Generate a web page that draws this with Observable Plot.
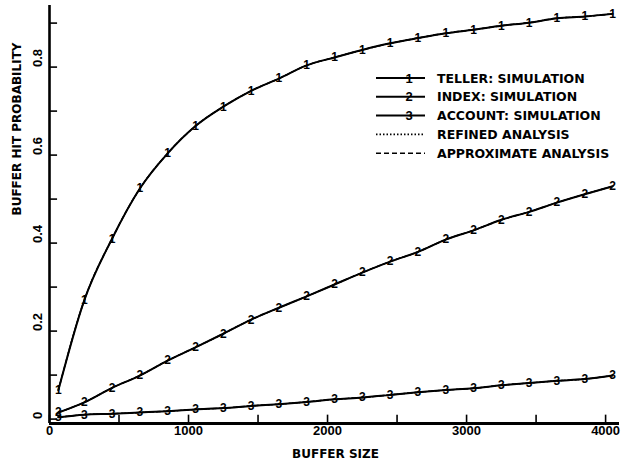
<!DOCTYPE html>
<html>
<head>
<meta charset="utf-8">
<script src="https://cdn.jsdelivr.net/npm/d3@7"></script>
<script src="https://cdn.jsdelivr.net/npm/@observablehq/plot@0.6"></script>
<style>
  html, body { margin: 0; padding: 0; background: #fff; }
  svg { display: block; }
</style>
</head>
<body>
<div id="chart"></div>
<script>
// ---- data ----
const bufferSize = [64, 250, 450, 650, 850, 1050, 1250, 1450, 1650, 1850, 2050,
  2250, 2450, 2650, 2850, 3050, 3250, 3450, 3650, 3850, 4050];
const teller = [0.066, 0.270, 0.410, 0.524, 0.604, 0.666, 0.710, 0.746, 0.774, 0.804, 0.822,
  0.839, 0.854, 0.866, 0.877, 0.885, 0.894, 0.901, 0.911, 0.915, 0.921];
const indexSeries = [0.015, 0.038, 0.071, 0.099, 0.133, 0.163, 0.194, 0.226, 0.253, 0.279, 0.306,
  0.333, 0.358, 0.380, 0.408, 0.429, 0.453, 0.471, 0.492, 0.511, 0.529];
const account = [0.004, 0.010, 0.012, 0.015, 0.018, 0.022, 0.025, 0.030, 0.034, 0.039, 0.045,
  0.049, 0.055, 0.061, 0.066, 0.070, 0.077, 0.082, 0.087, 0.091, 0.099];
// analysis curves coincide with the simulation curves in the picture
const refinedTeller = teller, refinedIndex = indexSeries, refinedAccount = account;
const approxTeller = teller, approxIndex = indexSeries, approxAccount = account;

const seriesNames = ["TELLER: SIMULATION", "INDEX: SIMULATION", "ACCOUNT: SIMULATION"];
const seriesMarkers = ["1", "2", "3"];
const analysisNames = ["REFINED ANALYSIS", "APPROXIMATE ANALYSIS"];

const xTicks = [0, 500, 1000, 1500, 2000, 2500, 3000, 3500, 4000];
const xTickLabels = ["0", "", "1000", "", "2000", "", "3000", "", "4000"];
const yTicks = [0, 0.1, 0.2, 0.3, 0.4, 0.5, 0.6, 0.7, 0.8, 0.9];
const yTickLabels = ["0", "", "0.2", "", "0.4", "", "0.6", "", "0.8", ""];
const xTitle = "BUFFER SIZE";
const yTitle = "BUFFER HIT PROBABILITY";

// ---- build tidy tables ----
const simData = [teller, indexSeries, account].flatMap((arr, s) =>
  arr.map((v, i) => ({x: bufferSize[i], y: v, s: seriesNames[s], m: seriesMarkers[s]})));
const refinedData = [refinedTeller, refinedIndex, refinedAccount].flatMap((arr, s) =>
  arr.map((v, i) => ({x: bufferSize[i], y: v, s: seriesNames[s]})));
const approxData = [approxTeller, approxIndex, approxAccount].flatMap((arr, s) =>
  arr.map((v, i) => ({x: bufferSize[i], y: v, s: seriesNames[s]})));

const yFloor = -0.01;
const wordFont = "'DejaVu Sans', sans-serif";
const numFont = "'Liberation Sans', Arial, sans-serif";

const chart = Plot.plot({
  width: 621,
  height: 470,
  marginLeft: 49,
  marginRight: 2,
  marginTop: 5,
  marginBottom: 47,
  x: {domain: [0, 4100], axis: null},
  y: {domain: [yFloor, 0.94], axis: null},
  style: {background: "#fff", color: "#000"},
  marks: [
    // axes lines
    Plot.ruleX([0], {stroke: "#000", strokeWidth: 2.6}),
    Plot.ruleY([yFloor], {stroke: "#000", strokeWidth: 2.8}),
    // inward ticks
    Plot.ruleX(xTicks, {x: d => d, y1: yFloor, y2: yFloor + 0.019, stroke: "#000", strokeWidth: 1.6}),
    Plot.ruleY(yTicks, {y: d => d, x1: 0, x2: 58, stroke: "#000", strokeWidth: 1.6}),
    // tick labels
    Plot.text(xTicks, {x: d => d, text: (d, i) => xTickLabels[i], frameAnchor: "bottom", dy: 11,
      fontFamily: numFont, fontWeight: "bold", fontSize: 13, fill: "#000"}),
    Plot.text(yTicks, {y: d => d, text: (d, i) => yTickLabels[i], frameAnchor: "left", dx: -12, rotate: -90,
      fontFamily: numFont, fontWeight: "bold", fontSize: 13, fill: "#000"}),
    // axis titles
    Plot.text([xTitle], {text: d => d, frameAnchor: "bottom", dy: 34, dx: 1,
      fontFamily: wordFont, fontWeight: "bold", fontSize: 12, fill: "#000"}),
    Plot.text([yTitle], {text: d => d, frameAnchor: "left", dx: -32.5, dy: 1, rotate: -90,
      fontFamily: wordFont, fontWeight: "bold", fontSize: 12, fill: "#000"}),
    // simulation curves
    Plot.line(simData, {x: "x", y: "y", z: "s", stroke: "#000", strokeWidth: 2, curve: "monotone-x"}),
    // analysis curves
    Plot.line(refinedData, {x: "x", y: "y", z: "s", stroke: "#000", strokeWidth: 1.2,
      strokeDasharray: "1.5,2", curve: "monotone-x"}),
    Plot.line(approxData, {x: "x", y: "y", z: "s", stroke: "#000", strokeWidth: 1.4,
      strokeDasharray: "4,3", curve: "monotone-x"}),
    // markers (digits)
    Plot.text(simData, {x: "x", y: "y", text: "m", fontFamily: numFont, fontWeight: "bold",
      fontSize: 12, fill: "#000"})
  ]
});

document.getElementById("chart").appendChild(chart);

// ---- legend (inside plot area, top right) ----
const svg = d3.select(chart);
const lg = svg.append("g").attr("class", "legend");
const legendRows = [
  ...seriesNames.map((n, i) => ({label: n, kind: "sim", marker: seriesMarkers[i]})),
  {label: analysisNames[0], kind: "dot"},
  {label: analysisNames[1], kind: "dash"}
];
const lx0 = 376, lx1 = 425, tx = 437, ly0 = 78, lstep = 18.8;
legendRows.forEach((r, i) => {
  const yy = ly0 + i * lstep;
  const line = lg.append("line").attr("x1", lx0).attr("x2", lx1).attr("y1", yy).attr("y2", yy)
    .attr("stroke", "#000");
  if (r.kind === "sim") {
    line.attr("stroke-width", 2);
    lg.append("text").attr("x", 409).attr("y", yy).attr("dy", "0.35em").attr("text-anchor", "middle")
      .attr("font-family", numFont).attr("font-weight", "bold").attr("font-size", 13)
      .attr("fill", "#000").text(r.marker);
  } else if (r.kind === "dot") {
    line.attr("stroke-width", 1.6).attr("stroke-dasharray", "1.5,2");
  } else {
    line.attr("stroke-width", 1.6).attr("stroke-dasharray", "5,3");
  }
  lg.append("text").attr("x", tx).attr("y", yy).attr("dy", "0.36em")
    .attr("text-anchor", "start")
    .attr("font-family", wordFont).attr("font-weight", "bold").attr("font-size", 12.5)
    .attr("fill", "#000").text(r.label);
});
</script>
</body>
</html>
